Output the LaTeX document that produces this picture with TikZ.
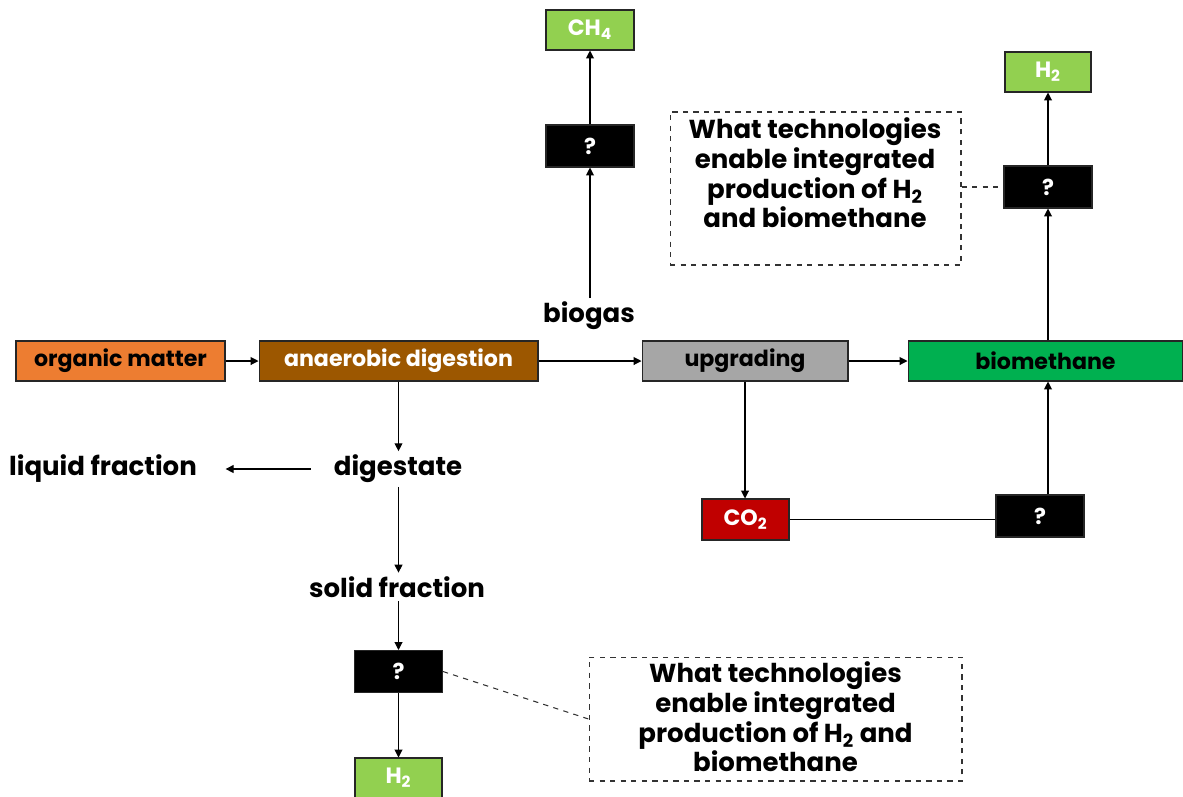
\documentclass[tikz,border=0pt]{standalone}
\usepackage{fontspec}
\setmainfont{Poppins}
\usetikzlibrary{arrows.meta,positioning}
\definecolor{orgcol}{HTML}{ED7D31}
\definecolor{adcol}{HTML}{9C5700}
\definecolor{upcol}{HTML}{A6A6A6}
\definecolor{bmcol}{HTML}{00B050}
\definecolor{gascol}{HTML}{92D050}
\definecolor{cocol}{HTML}{C00000}
\begin{document}
\begin{tikzpicture}[x=0.02cm,y=-0.02cm,
	box/.style={draw=black!85, line width=0.6pt, minimum height=0.8cm, inner sep=0pt, font=\bfseries\fontsize{12.6}{14}\selectfont},
	qbox/.style={box, fill=black, text=white, minimum width=1.76cm, minimum height=0.84cm},
	lbl/.style={font=\bfseries\fontsize{14.8}{17}\selectfont, inner sep=2pt},
	note/.style={draw=black!80, dashed, line width=0.6pt},
	notetxt/.style={font=\bfseries\fontsize{14.8}{15.2}\selectfont, align=center, inner sep=0pt},
	arr/.style={-{Triangle[length=4.5pt,width=4.5pt]}, line width=0.6pt},
	]
\useasboundingbox (0,0) rectangle (1183,796);

\node[box, fill=orgcol, minimum width=4.18cm] (om) at (120.5,361) {organic matter};
\node[box, fill=adcol, text=white, minimum width=5.58cm] (ad) at (398.5,361) {anaerobic digestion};
\node[box, fill=upcol, minimum width=4.12cm] (up) at (745,361) {upgrading};
\node[box, fill=bmcol, minimum width=5.5cm] (bm) at (1045.5,361) {biomethane};

\node[lbl] (bg) at (589,316) {biogas};
\node[qbox] (q1) at (590,146) {?};
\node[box, fill=gascol, text=white, minimum width=1.76cm] (ch4) at (590,30) {CH\textsubscript{4}};

\node[qbox] (q4) at (1048,187) {?};
\node[box, fill=gascol, text=white, minimum width=1.72cm] (h2a) at (1048,72) {H\textsubscript{2}};
\node[note, minimum width=5.82cm, minimum height=3.06cm] (n1) at (815.5,188.5) {};
\node[notetxt] (n1t) at (815,173) {What technologies\\enable integrated\\production of H\textsubscript{2}\\and biomethane};

\node[box, fill=cocol, text=white, minimum width=1.74cm, minimum height=0.82cm] (co2) at (745.5,519.5) {CO\textsubscript{2}};
\node[qbox] (q2) at (1040,516) {?};

\node[lbl] (dig) at (398,469) {digestate};
\node[lbl] (liq) at (103,469) {liquid fraction};
\node[lbl] (sol) at (397,587) {solid fraction};
\node[qbox] (q3) at (398.5,671.5) {?};
\node[box, fill=gascol, text=white, minimum width=1.74cm] (h2b) at (398.5,778) {H\textsubscript{2}};
\node[note, minimum width=7.46cm, minimum height=2.48cm] (n2) at (775.5,719) {};
\node[notetxt] (n2t) at (775.5,717) {What technologies\\enable integrated\\production of H\textsubscript{2} and\\biomethane};

\draw[arr] (om) -- (ad);
\draw[arr] (ad) -- (up);
\draw[arr] (up) -- (bm);
\draw[arr] (q1.south |- bg.north) -- (q1.south);
\draw[arr] (q1) -- (ch4);
\draw[arr] (bm.north -| q4.south) -- (q4.south);
\draw[arr] (q4) -- (h2a);
\draw[note] (n1.east |- q4.west) -- (q4.west);
\draw[arr] (up.south) -- (co2.north -| up.south);
\draw[line width=0.6pt] (co2.east) -- (co2.east -| q2.west);
\draw[arr] (q2.north -| q4.south) -- (bm.south -| q4.south);
\draw[arr] (ad.south) -- (ad.south |- dig.north);
\draw[arr, shorten <=0.38cm, shorten >=0.5cm] (dig) -- (liq);
\draw[arr] (dig.south -| ad.south) -- (sol.north -| ad.south);
\draw[arr] (sol.south -| ad.south) -- (q3.north);
\draw[arr] (q3) -- (h2b);
\draw[note] (q3.east) -- (n2.west);
\end{tikzpicture}
\end{document}
